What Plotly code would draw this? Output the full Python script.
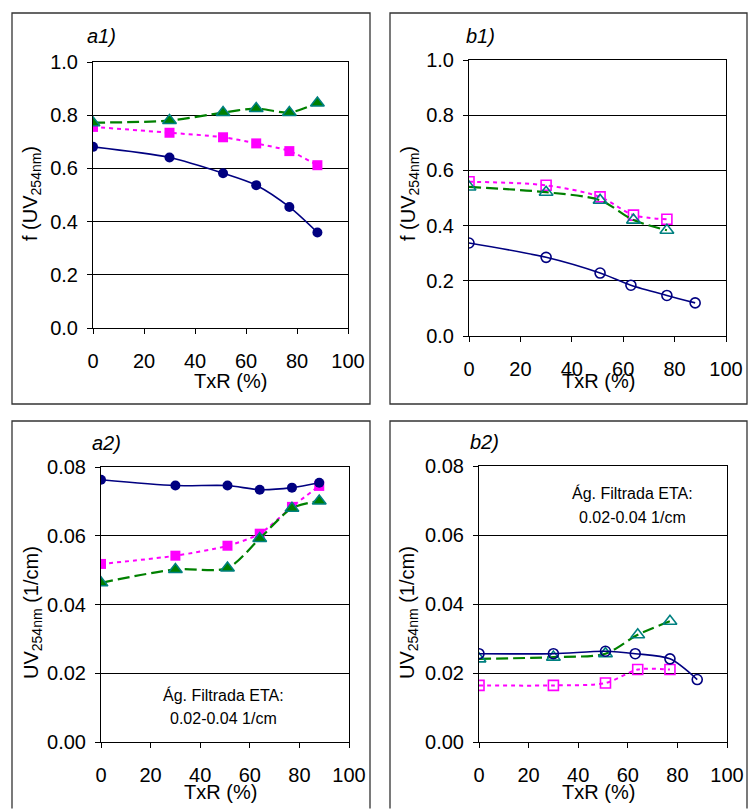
import plotly.graph_objects as go

W, H = 749, 810

# ---------------- data ----------------
txr_a = [0, 30, 51, 64, 77, 88]
a1_circle = [0.681, 0.641, 0.582, 0.537, 0.455, 0.359]
a1_square = [0.756, 0.734, 0.717, 0.694, 0.665, 0.612]
a1_triangle = [0.772, 0.780, 0.810, 0.825, 0.810, 0.846]

txr_b_circle = [0, 30, 51, 63, 77, 88]
txr_b_other = [0, 30, 51, 64, 77]
b1_circle = [0.337, 0.285, 0.228, 0.184, 0.147, 0.120]
b1_square = [0.559, 0.546, 0.504, 0.438, 0.423]
b1_triangle = [0.540, 0.521, 0.492, 0.420, 0.383]

a2_circle = [0.0763, 0.0746, 0.0746, 0.0734, 0.0740, 0.0754]
a2_square = [0.0518, 0.0542, 0.0571, 0.0606, 0.0684, 0.0745]
a2_triangle = [0.0463, 0.0502, 0.0506, 0.0592, 0.0680, 0.0701]

b2_circle = [0.0256, 0.0256, 0.0263, 0.0256, 0.0241, 0.0181]
b2_square = [0.0164, 0.0164, 0.0171, 0.0210, 0.0210]
b2_triangle = [0.0241, 0.0246, 0.0256, 0.0311, 0.0350]

x_ticks = [0, 20, 40, 60, 80, 100]
f_ticks = [0.0, 0.2, 0.4, 0.6, 0.8, 1.0]
uv_ticks = [0.00, 0.02, 0.04, 0.06, 0.08]

panel_labels = ["a1)", "b1)", "a2)", "b2)"]
note_lines = ["Ág. Filtrada ETA:", "0.02-0.04 1/cm"]

NAVY = "#000080"
MAG = "#FF00FF"
GREEN = "#008000"
TEAL = "#008080"
FONT = "Liberation Sans, Arial, sans-serif"

fig = go.Figure()


def add_series(ax, x, yc, ys, yt, xo=None, filled=True):
    xa = "x" if ax == 1 else f"x{ax}"
    ya = "y" if ax == 1 else f"y{ax}"
    xo = xo if xo is not None else x
    if filled:
        mc = dict(symbol="circle", size=10, color=NAVY)
        ms = dict(symbol="square", size=10, color=MAG)
        mt = dict(symbol="triangle-up", size=12, color=GREEN,
                  line=dict(color=TEAL, width=1.5))
    else:
        mc = dict(symbol="circle-open", size=10, color=NAVY, line=dict(width=1.6))
        ms = dict(symbol="square-open", size=10, color=MAG, line=dict(width=1.6))
        mt = dict(symbol="triangle-up-open", size=12, color=TEAL, line=dict(width=1.6))
    fig.add_trace(go.Scatter(x=xo, y=ys, mode="lines+markers", xaxis=xa, yaxis=ya,
                             line=dict(color=MAG, width=2, dash="4px,4px",
                                       shape="spline", smoothing=0.8),
                             marker=ms, showlegend=False))
    fig.add_trace(go.Scatter(x=xo, y=yt, mode="lines+markers", xaxis=xa, yaxis=ya,
                             line=dict(color=GREEN, width=2.2, dash="12px,5px",
                                       shape="spline", smoothing=0.8),
                             marker=mt, showlegend=False))
    fig.add_trace(go.Scatter(x=x, y=yc, mode="lines+markers", xaxis=xa, yaxis=ya,
                             line=dict(color=NAVY, width=1.6,
                                       shape="spline", smoothing=0.8),
                             marker=mc, showlegend=False))


add_series(1, txr_a, a1_circle, a1_square, a1_triangle, filled=True)
add_series(2, txr_b_circle, b1_circle, b1_square, b1_triangle, xo=txr_b_other, filled=False)
add_series(3, txr_a, a2_circle, a2_square, a2_triangle, filled=True)
add_series(4, txr_b_circle, b2_circle, b2_square, b2_triangle, xo=txr_b_other, filled=False)

# plot areas in pixels: (x0, x1, ytop, ybottom)
areas = [(93, 348, 62, 328), (469, 726, 60, 336), (101, 349, 467, 742), (479, 727, 466, 742)]


def px_x(p):
    return p / W


def px_y(p):
    return 1 - p / H


layout = dict(width=W, height=H,
              margin=dict(l=0, r=0, t=0, b=0, pad=0, autoexpand=False),
              paper_bgcolor="white", plot_bgcolor="white", showlegend=False,
              font=dict(family=FONT, size=20, color="black"))

for i, (x0, x1, yt, yb) in enumerate(areas, start=1):
    sfx = "" if i == 1 else str(i)
    yvals = f_ticks if i <= 2 else uv_ticks
    ytext = [f"{v:.1f}" for v in yvals] if i <= 2 else [f"{v:.2f}" for v in yvals]
    layout[f"xaxis{sfx}"] = dict(domain=[px_x(x0), px_x(x1)], anchor=f"y{sfx}",
                                 range=[0, 100], automargin=False,
                                 tickvals=x_ticks, ticks="outside", ticklen=5,
                                 tickcolor="black", showgrid=False, zeroline=False,
                                 showline=True, linecolor="black", linewidth=1,
                                 mirror=True, ticklabelstandoff=10,
                                 tickfont=dict(size=20, family=FONT))
    layout[f"yaxis{sfx}"] = dict(domain=[px_y(yb), px_y(yt)], anchor=f"x{sfx}",
                                 range=[yvals[0], yvals[-1]], automargin=False,
                                 tickvals=yvals, ticktext=ytext, ticks="outside",
                                 ticklen=5, tickcolor="black", showgrid=True,
                                 gridcolor="black", gridwidth=1, zeroline=False,
                                 showline=True, linecolor="black", linewidth=1,
                                 mirror=True, ticklabelstandoff=5,
                                 tickfont=dict(size=20, family=FONT))

fig.update_layout(**layout)

# panel borders (top panels closed boxes, bottom panels run off the page)
for (px0, px1, py0, py1) in [(12, 370, 13, 404), (390, 747, 13, 404)]:
    fig.add_shape(type="rect", xref="paper", yref="paper",
                  x0=px_x(px0), x1=px_x(px1), y0=px_y(py1), y1=px_y(py0),
                  line=dict(color="#333333", width=1.3), layer="below")
for (px0, px1, py0) in [(12, 370, 421), (390, 747, 421)]:
    path = (f"M {px_x(px0)},0.002 L {px_x(px0)},{px_y(py0)} "
            f"L {px_x(px1)},{px_y(py0)} L {px_x(px1)},0.002")
    fig.add_shape(type="path", xref="paper", yref="paper", path=path,
                  line=dict(color="#333333", width=1.3), layer="below")


def ann(text, px, py, size=20, angle=0, italic=False, xanchor="center"):
    fig.add_annotation(text=text, x=px_x(px), y=px_y(py), xref="paper", yref="paper",
                       showarrow=False, textangle=angle, xanchor=xanchor,
                       yanchor="middle",
                       font=dict(family=FONT, size=size, color="black",
                                 style="italic" if italic else "normal"))


# panel labels
label_pos = [(85, 36), (464, 36), (90, 443), (468, 442)]
for lab, (px, py) in zip(panel_labels, label_pos):
    ann(lab, px, py, size=20, italic=True, xanchor="left")

# axis titles
for (px, py) in [(230, 381), (598, 381), (220, 792), (598, 792)]:
    ann("TxR (%)", px, py, size=20)
for (px, py) in [(32, 194), (410, 194)]:
    ann("f (UV<sub>254nm</sub>)", px, py, size=20, angle=-90)
for (px, py) in [(32, 613), (408, 613)]:
    ann("UV<sub>254nm</sub> (1/cm)", px, py, size=20, angle=-90)

# notes
for (cx, y1, y2) in [(223, 695, 718), (632, 493, 517)]:
    ann(note_lines[0], cx, y1, size=16)
    ann(note_lines[1], cx, y2, size=16)

fig.write_html(
    "out.html",
    config={"displayModeBar": False},
    post_script=(
        "document.documentElement.style.margin='0';"
        "document.documentElement.style.overflow='hidden';"
        "document.body.style.margin='0';document.body.style.padding='0';"
        "document.body.style.overflow='hidden';"
    ),
)
